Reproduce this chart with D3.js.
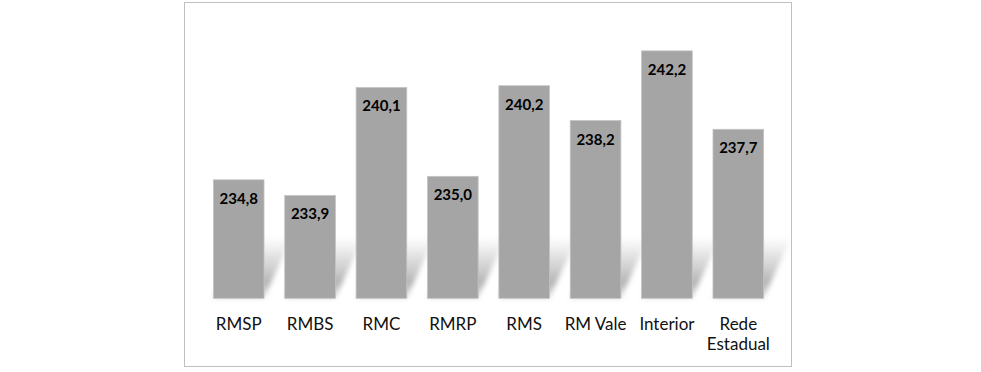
<!DOCTYPE html>
<html>
<head>
<meta charset="utf-8">
<script src="https://cdn.jsdelivr.net/npm/d3@7"></script>
<style>
  body { margin: 0; background: #fff; }
  svg { display: block; }
</style>
</head>
<body>
<svg id="chart" width="981" height="372"></svg>
<script>
// dados
const categories = ["RMSP", "RMBS", "RMC", "RMRP", "RMS", "RM Vale", "Interior", "Rede Estadual"];
const values = [234.8, 233.9, 240.1, 235.0, 240.2, 238.2, 242.2, 237.7];
const yDomain = [228, 244];

const svg = d3.select("#chart");
const fmt = v => v.toFixed(1).replace(".", ",");

// moldura
svg.append("rect")
  .attr("x", 184.5).attr("y", 2.5)
  .attr("width", 607).attr("height", 364)
  .attr("fill", "none").attr("stroke", "#bfbfbf");

const x = d3.scaleBand().domain(categories).range([203, 774]).paddingInner(0.29).paddingOuter(0.145);
const y = d3.scaleLinear().domain(yDomain).range([298.3, 19.5]);

// sombra
const defs = svg.append("defs");
const grad = defs.append("linearGradient").attr("id", "shade")
  .attr("x1", 0).attr("y1", 1).attr("x2", 0).attr("y2", 0);
grad.append("stop").attr("offset", 0).attr("stop-color", "#bdbdbd").attr("stop-opacity", 0.5);
grad.append("stop").attr("offset", 0.25).attr("stop-color", "#b0b0b0").attr("stop-opacity", 0.95);
grad.append("stop").attr("offset", 0.65).attr("stop-color", "#c4c4c4").attr("stop-opacity", 0.55);
grad.append("stop").attr("offset", 1).attr("stop-color", "#d0d0d0").attr("stop-opacity", 0);
defs.append("filter").attr("id", "blur").attr("x", "-20%").attr("y", "-20%").attr("width", "140%").attr("height", "140%")
  .append("feGaussianBlur").attr("stdDeviation", 2.5);

const base = y(yDomain[0]);
const sh = 62, dx = 28;
svg.append("g").selectAll("path")
  .data(categories)
  .enter()
  .append("path")
  .attr("d", d => {
    const x0 = x(d), x1 = x(d) + x.bandwidth();
    return `M${x0},${base}L${x1},${base}L${x1 + dx},${base - sh}L${x0 + dx},${base - sh}Z`;
  })
  .attr("fill", "url(#shade)")
  .attr("filter", "url(#blur)");

// barras
svg.append("g").selectAll("rect")
  .data(values)
  .enter()
  .append("rect")
  .attr("x", (d, i) => x(categories[i]))
  .attr("y", d => y(d))
  .attr("width", x.bandwidth())
  .attr("height", d => base - y(d))
  .attr("fill", "#a5a5a5")
  .attr("stroke", "#c4c4c4")
  .attr("stroke-width", 0.8);

// rótulos de valor
svg.append("g").selectAll("text")
  .data(values)
  .enter()
  .append("text")
  .attr("x", (d, i) => x(categories[i]) + x.bandwidth() / 2)
  .attr("y", d => y(d) + 24)
  .attr("text-anchor", "middle")
  .attr("font-family", "Lato, sans-serif")
  .attr("font-weight", "bold")
  .attr("font-size", 15)
  .attr("fill", "#000")
  .text(fmt);

// eixo x
const axis = svg.append("g")
  .attr("transform", `translate(0,${base})`)
  .call(d3.axisBottom(x).tickSize(0).tickPadding(0));
axis.select(".domain").remove();
axis.selectAll("text")
  .attr("font-family", "Lato, sans-serif")
  .attr("font-size", 17)
  .attr("fill", "#111")
  .attr("dy", null)
  .attr("y", 0)
  .each(function(d) {
    const t = d3.select(this);
    const words = d === "Rede Estadual" ? ["Rede", "Estadual"] : [d];
    t.text(null);
    words.forEach((w, i) => {
      t.append("tspan").attr("x", 0).attr("y", 32 + i * 20).text(w);
    });
  });
</script>
</body>
</html>
